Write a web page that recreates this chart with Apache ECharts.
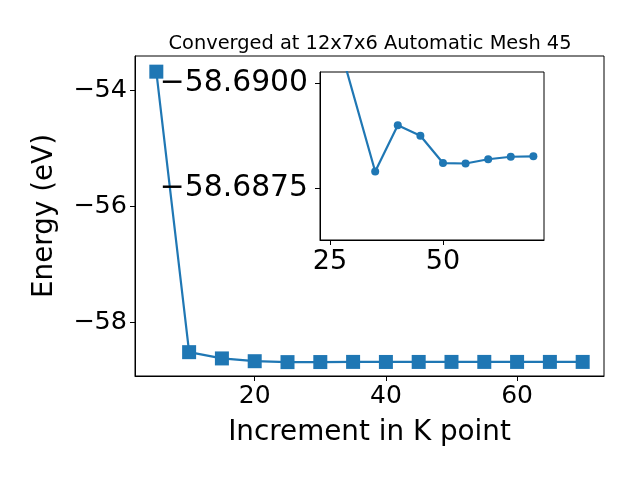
<!DOCTYPE html>
<html><head><meta charset="utf-8">
<script src="https://cdn.jsdelivr.net/npm/echarts@6/dist/echarts.min.js"></script>
<style>html,body{margin:0;padding:0;background:#fff}#c{width:640px;height:480px}</style>
</head><body><div id="c"></div>
<script>
const kPoints = [5,10,15,20,25,30,35,40,45,50,55,60,65,70];
const energies = [-53.684,-58.52,-58.628,-58.676,-58.6917,-58.6905,-58.6879,-58.6890,-58.68875,-58.6881,-58.68809,-58.68819,-58.68825,-58.68826];
const insetK = [25,35,40,45,50,55,60,65,70];
const insetEnergies = [-58.6917,-58.6879,-58.6890,-58.68875,-58.6881,-58.68809,-58.68819,-58.68825,-58.68826];
const mainXTicks = [20,40,60];
const mainYTicks = [-58,-56,-54];
const insetXTicks = [25,50];
const insetYTicks = [-58.6900,-58.6875];
const titleText = 'Converged at 12x7x6 Automatic Mesh 45';
const xName = 'Increment in K point';
const yName = 'Energy (eV)';

const FONT = 'DejaVu Sans';
const minus = s => String(s).replace('-', '\u2212');
const C = '#1f77b4';
const chart = echarts.init(document.getElementById('c'), null, {renderer:'canvas'});
const axisCommon = {
  axisLine:{show:true,onZero:false,lineStyle:{color:'#000',width:1}},
  axisTick:{show:true,inside:false,length:5,lineStyle:{color:'#000',width:1}},
  splitLine:{show:false}
};
chart.setOption({
  animation:false,
  backgroundColor:'#fff',
  title:{text:titleText,left:365,textAlign:'center',top:29,
    textStyle:{fontFamily:FONT,fontSize:19.4,fontWeight:'normal',color:'#000'}},
  grid:[
    {left:135,right:36,top:56,bottom:104,show:true,borderColor:'#000',borderWidth:1,backgroundColor:'transparent',containLabel:false},
    {left:320,right:96,top:72,bottom:240,show:true,borderColor:'#000',borderWidth:1,backgroundColor:'#fff',containLabel:false,z:5}
  ],
  xAxis:[
    Object.assign({}, axisCommon, {type:'value',gridIndex:0,min:1.75,max:73.25,
      name:xName,nameLocation:'middle',nameGap:43,
      nameTextStyle:{fontFamily:FONT,fontSize:27.8,color:'#000',verticalAlign:'top'},
      axisTick:Object.assign({},axisCommon.axisTick,{customValues:mainXTicks}),
      axisLabel:{customValues:mainXTicks,fontFamily:FONT,fontSize:25,color:'#000',margin:8,formatter:v=>minus(v)}}),
    Object.assign({}, axisCommon, {type:'value',gridIndex:1,min:22.79,max:72.35,z:6,
      axisTick:Object.assign({},axisCommon.axisTick,{customValues:insetXTicks}),
      axisLabel:{customValues:insetXTicks,fontFamily:FONT,fontSize:27,color:'#000',margin:8,formatter:v=>minus(v)}})
  ],
  yAxis:[
    Object.assign({}, axisCommon, {type:'value',gridIndex:0,min:-58.931,max:-53.414,
      name:yName,nameLocation:'middle',nameGap:76,nameRotate:90,
      nameTextStyle:{fontFamily:FONT,fontSize:27.8,color:'#000'},
      axisTick:Object.assign({},axisCommon.axisTick,{customValues:mainYTicks}),
      axisLabel:{customValues:mainYTicks,fontFamily:FONT,fontSize:25.5,color:'#000',margin:8,formatter:v=>minus(v)}}),
    Object.assign({}, axisCommon, {type:'value',gridIndex:1,inverse:true,min:-58.690267,max:-58.686269,z:6,
      axisTick:Object.assign({},axisCommon.axisTick,{customValues:insetYTicks}),
      axisLabel:{customValues:insetYTicks,fontFamily:FONT,fontSize:29.8,color:'#000',margin:12,formatter:v=>minus(v.toFixed(4))}})
  ],
  series:[
    {type:'line',xAxisIndex:0,yAxisIndex:0,data:kPoints.map((k,i)=>[k,energies[i]]),
      symbol:'rect',symbolSize:14,showAllSymbol:true,itemStyle:{color:C},lineStyle:{color:C,width:2.2},z:2},
    {type:'line',xAxisIndex:1,yAxisIndex:1,data:insetK.map((k,i)=>[k,insetEnergies[i]]),clip:true,
      symbol:'circle',symbolSize:8,showAllSymbol:true,itemStyle:{color:C},lineStyle:{color:C,width:2.2},z:7}
  ]
});
</script></body></html>
